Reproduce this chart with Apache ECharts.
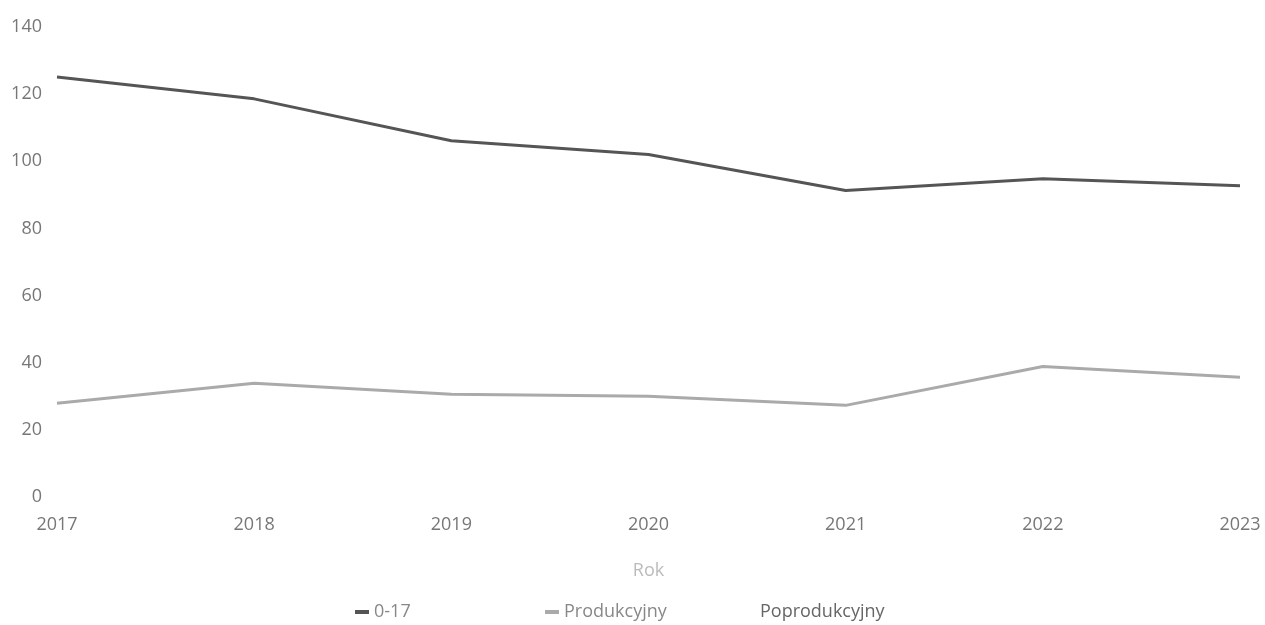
<!DOCTYPE html>
<html>
<head>
<meta charset="utf-8">
<script src="https://cdn.jsdelivr.net/npm/echarts@6/dist/echarts.min.js"></script>
<style>html,body{margin:0;padding:0;background:#fff;}#chart{width:1265px;height:625px;}</style>
</head>
<body>
<div id="chart"></div>
<script>
const years = ['2017','2018','2019','2020','2021','2022','2023'];
const seriesNames = ['0-17','Produkcyjny','Poprodukcyjny'];
const values017 = [125.1, 118.6, 106.1, 102.0, 91.3, 94.8, 92.7];
const valuesProd = [27.9, 33.9, 30.6, 30.0, 27.3, 38.9, 35.7];
const valuesPoprod = [];
const yTicks = [0, 20, 40, 60, 80, 100, 120, 140];

const chart = echarts.init(document.getElementById('chart'));
const font = '"Open Sans", "Noto Sans", sans-serif';
const legendBase = {
  bottom: -1,
  itemWidth: 14,
  itemHeight: 4,
  icon: 'rect',
  textStyle: { fontFamily: font, fontSize: 18, color: '#888' }
};
chart.setOption({
  animation: false,
  textStyle: { fontFamily: font },
  grid: { left: 57, right: 25, top: 27, bottom: 128, containLabel: false },
  legend: [
    Object.assign({}, legendBase, { left: 350, data: [seriesNames[0]] }),
    Object.assign({}, legendBase, { left: 540, data: [seriesNames[1]] }),
    Object.assign({}, legendBase, { left: 736, data: [{ name: seriesNames[2], itemStyle: { color: 'rgba(0,0,0,0)' } }],
      textStyle: { fontFamily: font, fontSize: 18, color: '#666' } })
  ],
  xAxis: {
    type: 'category',
    data: years,
    boundaryGap: false,
    name: 'Rok',
    nameLocation: 'middle',
    nameGap: 65,
    nameTextStyle: { fontFamily: font, fontSize: 18, color: '#bbb' },
    axisLine: { show: false },
    axisTick: { show: false },
    axisLabel: { margin: 19, fontSize: 18, color: '#777', fontFamily: font }
  },
  yAxis: {
    type: 'value',
    min: yTicks[0],
    max: yTicks[yTicks.length - 1],
    interval: 20,
    splitLine: { show: false },
    axisLine: { show: false },
    axisTick: { show: false },
    axisLabel: { margin: 15, fontSize: 18, color: '#777', fontFamily: font }
  },
  series: [
    { name: seriesNames[0], type: 'line', data: values017, symbol: 'none',
      lineStyle: { width: 3, color: '#555' }, itemStyle: { color: '#555' } },
    { name: seriesNames[1], type: 'line', data: valuesProd, symbol: 'none',
      lineStyle: { width: 3, color: '#aaa' }, itemStyle: { color: '#aaa' } },
    { name: seriesNames[2], type: 'line', data: valuesPoprod, symbol: 'none',
      lineStyle: { width: 3, color: 'rgba(0,0,0,0)' }, itemStyle: { color: 'rgba(0,0,0,0)' } }
  ]
});
</script>
</body>
</html>
